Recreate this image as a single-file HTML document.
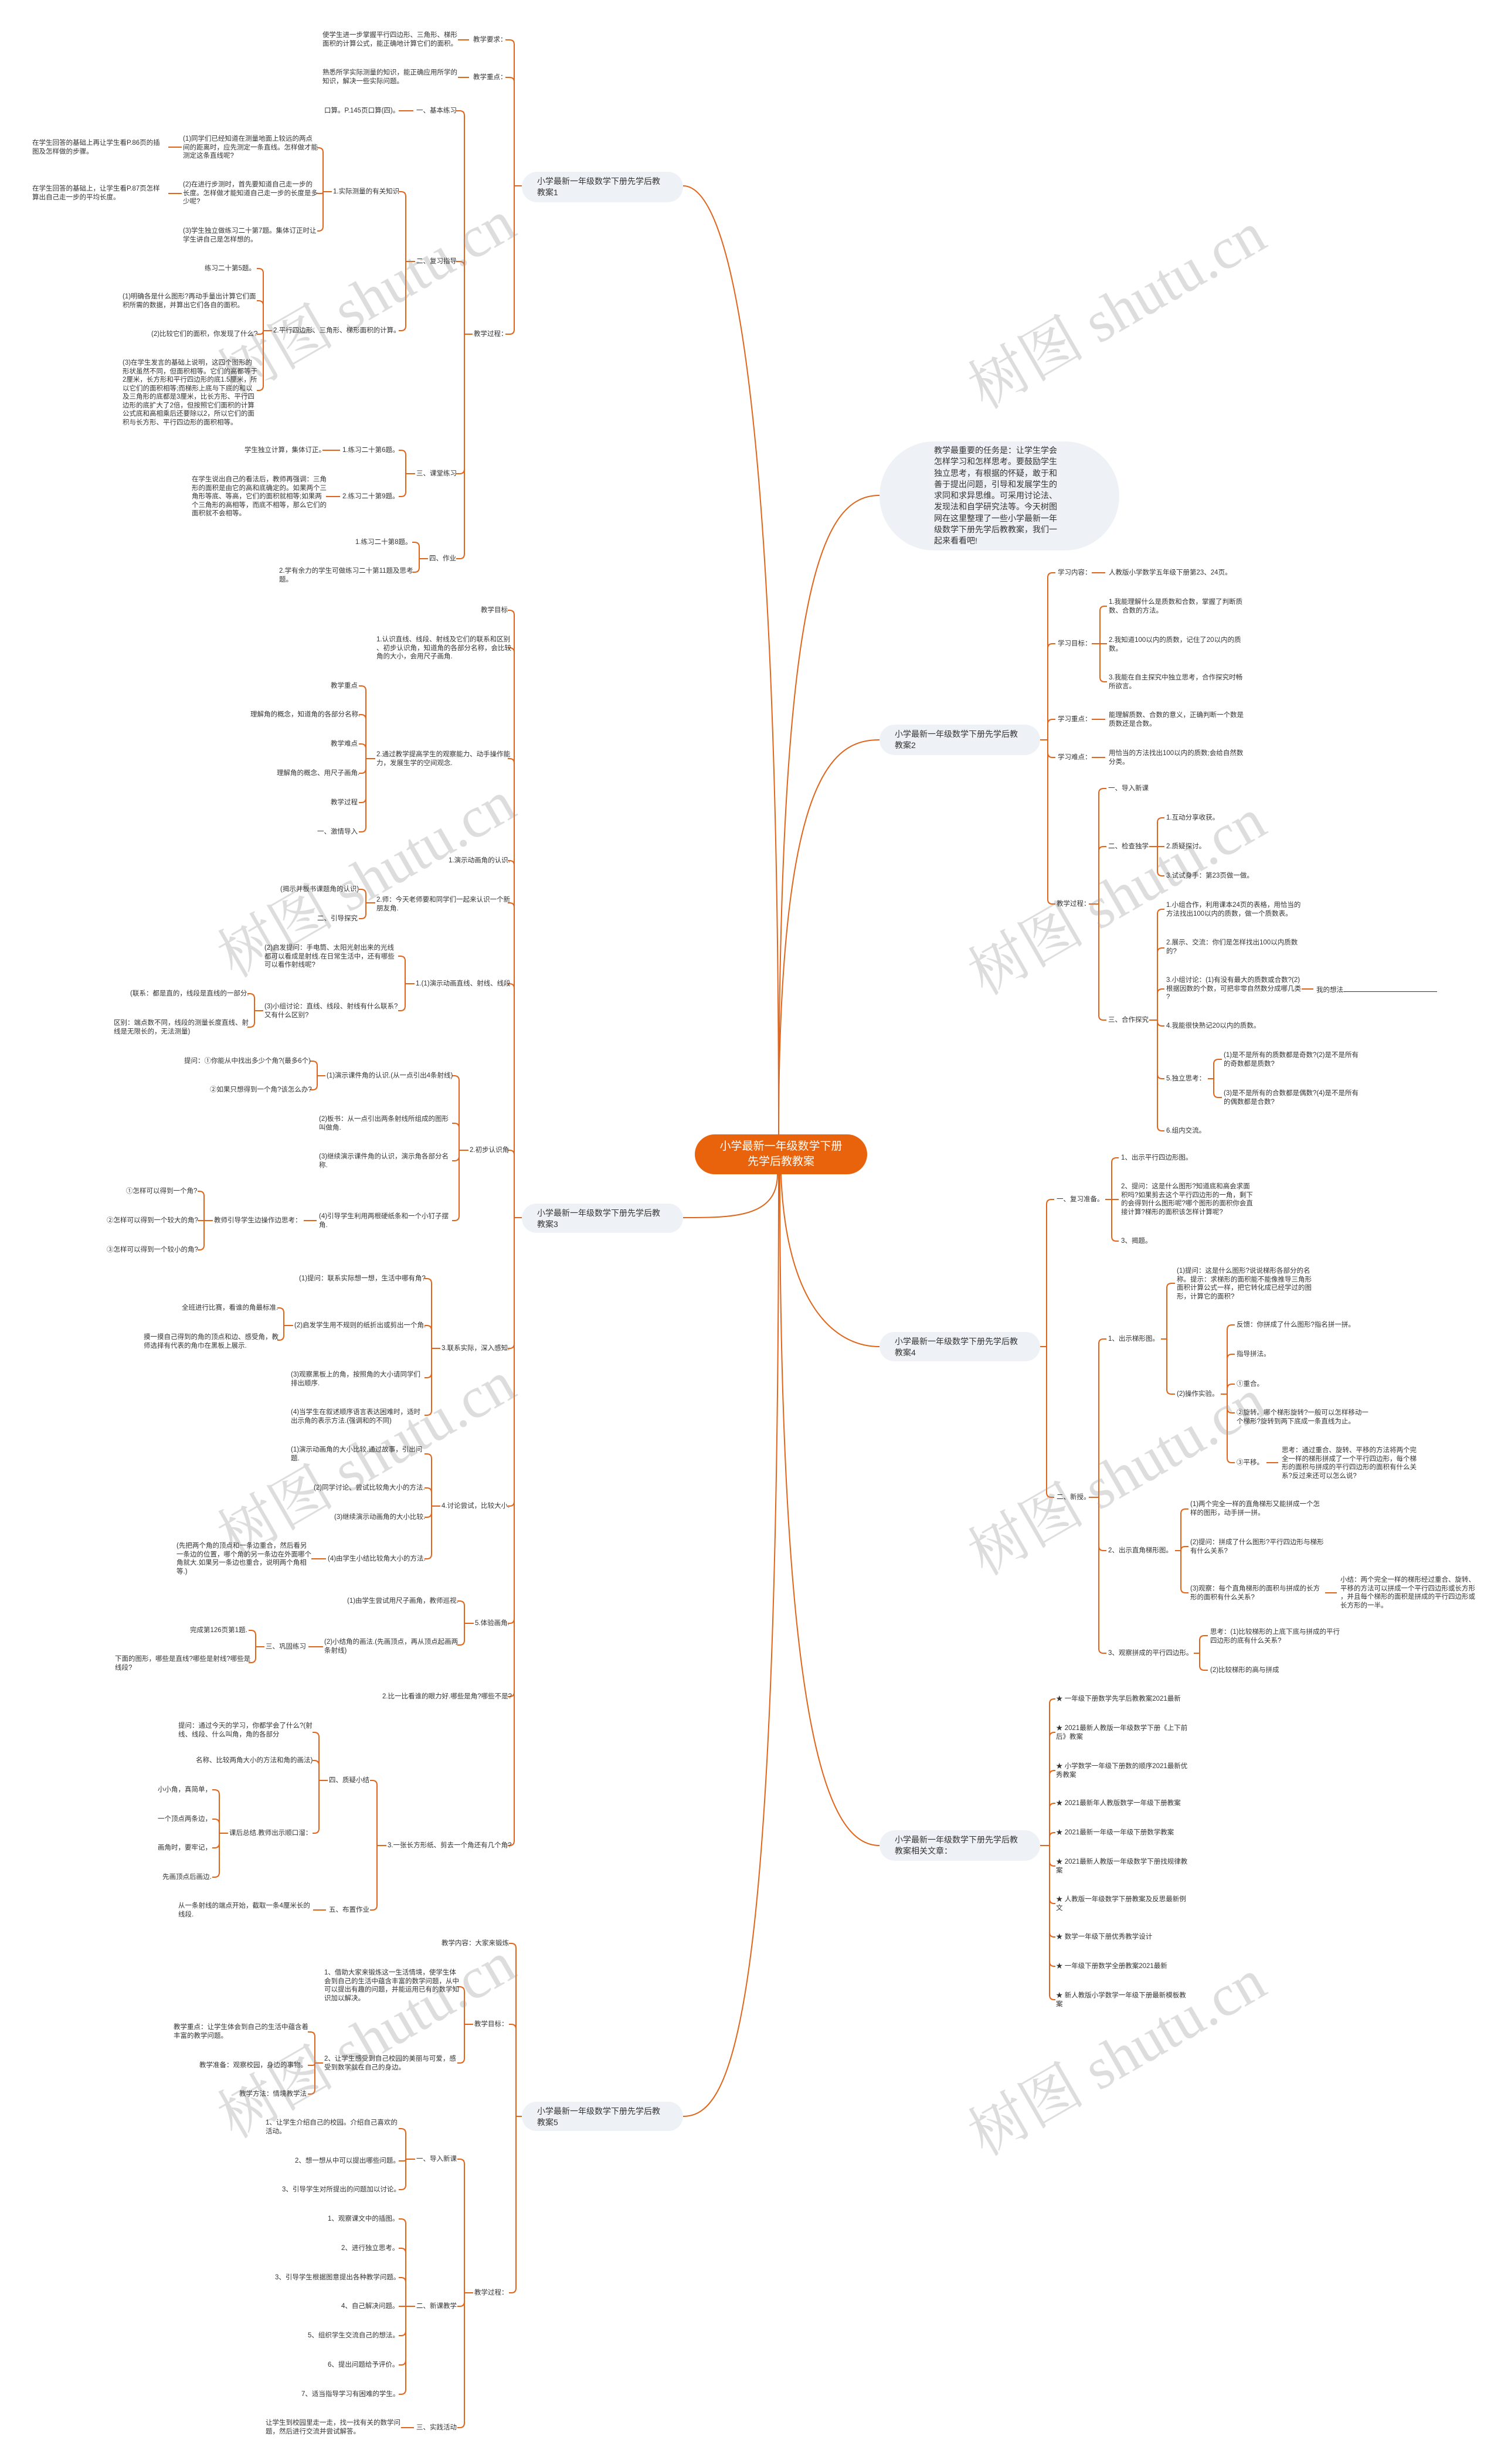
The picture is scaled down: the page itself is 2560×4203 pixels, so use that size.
<!DOCTYPE html>
<html><head><meta charset="utf-8">
<style>
html,body{margin:0;padding:0;background:#fff}
#c{position:relative;width:2560px;height:4203px;overflow:hidden;background:#fff;font-family:"Liberation Sans","Noto Sans CJK SC",sans-serif}
.t{position:absolute;font-size:11.5px;line-height:14.5px;white-space:nowrap;color:#333}
.n{position:absolute;background:#eef2f6;border-radius:26px;font-size:14px;line-height:19px;color:#333;box-sizing:border-box;padding:7px 0 0 26px;white-space:nowrap}
.wm{position:absolute;font-family:"Liberation Serif","Noto Serif CJK SC",serif;font-size:100px;color:rgba(150,150,150,0.32);white-space:nowrap;transform:rotate(-30deg);transform-origin:center}
svg{position:absolute;left:0;top:0}
</style></head><body><div id="c">
<svg id="s" width="2560" height="4203" viewBox="0 0 2560 4203" fill="none" stroke="#e0651a" stroke-width="2">
<path d="M1165 317 C1250 317 1328 700 1328 1935"/>
<path d="M1328 1935 C1328 1000 1400 845 1500 845"/>
<path d="M1328 1935 C1328 1320 1420 1262 1500 1262"/>
<path d="M1326 2003 C1326 2077 1250 2077 1165 2077"/>
<path d="M1332 2003 C1340 2220 1420 2297 1500 2297"/>
<path d="M1330 2003 C1330 3000 1420 3148 1500 3148"/>
<path d="M1328 2003 C1328 3450 1250 3610 1165 3610"/>
</svg>

<div class="wm" style="left:340px;top:430px">树图 shutu.cn</div>
<div class="wm" style="left:1620px;top:450px">树图 shutu.cn</div>
<div class="wm" style="left:340px;top:1420px">树图 shutu.cn</div>
<div class="wm" style="left:1620px;top:1450px">树图 shutu.cn</div>
<div class="wm" style="left:340px;top:2410px">树图 shutu.cn</div>
<div class="wm" style="left:1620px;top:2440px">树图 shutu.cn</div>
<div class="wm" style="left:340px;top:3400px">树图 shutu.cn</div>
<div class="wm" style="left:1620px;top:3430px">树图 shutu.cn</div>

<div style="position:absolute;left:1185px;top:1935px;width:294px;height:68px;border-radius:34px;background:#e8630c;color:#fff;font-size:19px;line-height:26px;text-align:center;box-sizing:border-box;padding-top:8px">小学最新一年级数学下册<br>先学后教教案</div>

<div style="position:absolute;left:1500px;top:753px;width:409px;height:186px;border-radius:93px;background:#eef2f6"></div>
<div class="t" style="left:1593px;top:759px;font-size:14px;line-height:19.3px">教学最重要的任务是：让学生学会<br>怎样学习和怎样思考。要鼓励学生<br>独立思考，有根据的怀疑，敢于和<br>善于提出问题，引导和发展学生的<br>求同和求异思维。可采用讨论法、<br>发现法和自学研究法等。今天树图<br>网在这里整理了一些小学最新一年<br>级数学下册先学后教教案，我们一<br>起来看看吧!</div>

<div class="n" style="left:890px;top:293px;width:275px;height:52px">小学最新一年级数学下册先学后教<br>教案1</div>
<div class="n" style="left:1500px;top:1236px;width:274px;height:52px">小学最新一年级数学下册先学后教<br>教案2</div>
<div class="n" style="left:890px;top:2053px;width:275px;height:50px">小学最新一年级数学下册先学后教<br>教案3</div>
<div class="n" style="left:1500px;top:2272px;width:274px;height:50px">小学最新一年级数学下册先学后教<br>教案4</div>
<div class="n" style="left:1500px;top:3122px;width:274px;height:52px">小学最新一年级数学下册先学后教<br>教案相关文章：</div>
<div class="n" style="left:890px;top:3585px;width:275px;height:50px">小学最新一年级数学下册先学后教<br>教案5</div>

<div class="t" style="left:807px;top:61px">教学要求：</div>
<div class="t" style="left:550px;top:53px">使学生进一步掌握平行四边形、三角形、梯形<br>面积的计算公式，能正确地计算它们的面积。</div>
<div class="t" style="left:807px;top:125px">教学重点：</div>
<div class="t" style="left:550px;top:117px">熟悉所学实际测量的知识，能正确应用所学的<br>知识，解决一些实际问题。</div>
<div class="t" style="left:808px;top:563px">教学过程：</div>
<div class="t" style="left:710px;top:182px">一、基本练习</div>
<div class="t" style="left:553px;top:182px">口算。P.145页口算(四)。</div>
<div class="t" style="left:710px;top:439px">二、复习指导</div>
<div class="t" style="left:568px;top:320px">1.实际测量的有关知识</div>
<div class="t" style="left:312px;top:230px">(1)同学们已经知道在测量地面上较远的两点<br>间的距离时，应先测定一条直线。怎样做才能<br>测定这条直线呢?</div>
<div class="t" style="left:55px;top:237px">在学生回答的基础上再让学生看P.86页的插<br>图及怎样做的步骤。</div>
<div class="t" style="left:312px;top:308px">(2)在进行步测时，首先要知道自己走一步的<br>长度。怎样做才能知道自己走一步的长度是多<br>少呢?</div>
<div class="t" style="left:55px;top:315px">在学生回答的基础上，让学生看P.87页怎样<br>算出自己走一步的平均长度。</div>
<div class="t" style="left:312px;top:387px">(3)学生独立做练习二十第7题。集体订正时让<br>学生讲自己是怎样想的。</div>
<div class="t" style="left:466px;top:557px">2.平行四边形、三角形、梯形面积的计算。</div>
<div class="t" style="left:349px;top:451px">练习二十第5题。</div>
<div class="t" style="left:209px;top:499px">(1)明确各是什么图形?再动手量出计算它们面<br>积所需的数据，并算出它们各自的面积。</div>
<div class="t" style="left:258px;top:563px">(2)比较它们的面积，你发现了什么?</div>
<div class="t" style="left:209px;top:612px">(3)在学生发言的基础上说明，这四个图形的<br>形状虽然不同，但面积相等。它们的高都等于<br>2厘米，长方形和平行四边形的底1.5厘米，所<br>以它们的面积相等;而梯形上底与下底的和以<br>及三角形的底都是3厘米，比长方形、平行四<br>边形的底扩大了2倍，但按照它们面积的计算<br>公式底和高相乘后还要除以2，所以它们的面<br>积与长方形、平行四边形的面积相等。</div>
<div class="t" style="left:710px;top:801px">三、课堂练习</div>
<div class="t" style="left:584px;top:761px">1.练习二十第6题。</div>
<div class="t" style="left:417px;top:761px">学生独立计算，集体订正。</div>
<div class="t" style="left:584px;top:840px">2.练习二十第9题。</div>
<div class="t" style="left:327px;top:811px">在学生说出自己的看法后，教师再强调：三角<br>形的面积是由它的高和底确定的。如果两个三<br>角形等底、等高，它们的面积就相等;如果两<br>个三角形的高相等，而底不相等，那么它们的<br>面积就不会相等。</div>
<div class="t" style="left:732px;top:946px">四、作业</div>
<div class="t" style="left:606px;top:918px">1.练习二十第8题。</div>
<div class="t" style="left:476px;top:967px">2.学有余力的学生可做练习二十第11题及思考<br>题。</div>

<div class="t" style="left:1804px;top:970px">学习内容：</div>
<div class="t" style="left:1891px;top:970px">人教版小学数学五年级下册第23、24页。</div>
<div class="t" style="left:1804px;top:1091px">学习目标：</div>
<div class="t" style="left:1891px;top:1020px">1.我能理解什么是质数和合数，掌握了判断质<br>数、合数的方法。</div>
<div class="t" style="left:1891px;top:1085px">2.我知道100以内的质数，记住了20以内的质<br>数。</div>
<div class="t" style="left:1891px;top:1149px">3.我能在自主探究中独立思考，合作探究时畅<br>所欲言。</div>
<div class="t" style="left:1804px;top:1220px">学习重点：</div>
<div class="t" style="left:1891px;top:1213px">能理解质数、合数的意义，正确判断一个数是<br>质数还是合数。</div>
<div class="t" style="left:1804px;top:1285px">学习难点：</div>
<div class="t" style="left:1891px;top:1278px">用恰当的方法找出100以内的质数;会给自然数<br>分类。</div>
<div class="t" style="left:1802px;top:1535px">教学过程：</div>
<div class="t" style="left:1890px;top:1338px">一、导入新课</div>
<div class="t" style="left:1890px;top:1437px">二、检查独学</div>
<div class="t" style="left:1989px;top:1388px">1.互动分享收获。</div>
<div class="t" style="left:1989px;top:1437px">2.质疑探讨。</div>
<div class="t" style="left:1989px;top:1487px">3.试试身手：第23页做一做。</div>
<div class="t" style="left:1890px;top:1733px">三、合作探究</div>
<div class="t" style="left:1989px;top:1537px">1.小组合作，利用课本24页的表格，用恰当的<br>方法找出100以内的质数，做一个质数表。</div>
<div class="t" style="left:1989px;top:1601px">2.展示、交流：你们是怎样找出100以内质数<br>的?</div>
<div class="t" style="left:1989px;top:1665px">3.小组讨论：(1)有没有最大的质数或合数?(2)<br>根据因数的个数，可把非零自然数分成哪几类<br>?</div>
<div class="t" style="left:2245px;top:1680px">我的想法<span style="display:inline-block;width:160px;border-bottom:1px solid #333;height:11px"></span></div>
<div class="t" style="left:1989px;top:1743px">4.我能很快熟记20以内的质数。</div>
<div class="t" style="left:1989px;top:1833px">5.独立思考：</div>
<div class="t" style="left:2087px;top:1793px">(1)是不是所有的质数都是奇数?(2)是不是所有<br>的奇数都是质数?</div>
<div class="t" style="left:2087px;top:1858px">(3)是不是所有的合数都是偶数?(4)是不是所有<br>的偶数都是合数?</div>
<div class="t" style="left:1989px;top:1922px">6.组内交流。</div>

<div class="t" style="left:1802px;top:2039px">一、复习准备。</div>
<div class="t" style="left:1912px;top:1968px">1、出示平行四边形图。</div>
<div class="t" style="left:1912px;top:2017px">2、提问：这是什么图形?知道底和高会求面<br>积吗?如果剪去这个平行四边形的一角，剩下<br>的会得到什么图形呢?哪个图形的面积你会直<br>接计算?梯形的面积该怎样计算呢?</div>
<div class="t" style="left:1912px;top:2110px">3、揭题。</div>
<div class="t" style="left:1802px;top:2547px">二、新授。</div>
<div class="t" style="left:1890px;top:2277px">1、出示梯形图。</div>
<div class="t" style="left:2007px;top:2161px">(1)提问：这是什么图形?说说梯形各部分的名<br>称。提示：求梯形的面积能不能像推导三角形<br>面积计算公式一样，把它转化成已经学过的图<br>形，计算它的面积?</div>
<div class="t" style="left:2007px;top:2371px">(2)操作实验。</div>
<div class="t" style="left:2109px;top:2253px">反馈：你拼成了什么图形?指名拼一拼。</div>
<div class="t" style="left:2109px;top:2303px">指导拼法。</div>
<div class="t" style="left:2109px;top:2354px">①重合。</div>
<div class="t" style="left:2109px;top:2403px">②旋转。哪个梯形旋转?一般可以怎样移动一<br>个梯形?旋转到两下底成一条直线为止。</div>
<div class="t" style="left:2109px;top:2488px">③平移。</div>
<div class="t" style="left:2186px;top:2467px">思考：通过重合、旋转、平移的方法将两个完<br>全一样的梯形拼成了一个平行四边形，每个梯<br>形的面积与拼成的平行四边形的面积有什么关<br>系?反过来还可以怎么说?</div>
<div class="t" style="left:1890px;top:2638px">2、出示直角梯形图。</div>
<div class="t" style="left:2030px;top:2559px">(1)两个完全一样的直角梯形又能拼成一个怎<br>样的图形，动手拼一拼。</div>
<div class="t" style="left:2030px;top:2624px">(2)提问：拼成了什么图形?平行四边形与梯形<br>有什么关系?</div>
<div class="t" style="left:2030px;top:2703px">(3)观察：每个直角梯形的面积与拼成的长方<br>形的面积有什么关系?</div>
<div class="t" style="left:2286px;top:2688px">小结：两个完全一样的梯形经过重合、旋转、<br>平移的方法可以拼成一个平行四边形或长方形<br>，并且每个梯形的面积是拼成的平行四边形或<br>长方形的一半。</div>
<div class="t" style="left:1890px;top:2813px">3、观察拼成的平行四边形。</div>
<div class="t" style="left:2064px;top:2777px">思考：(1)比较梯形的上底下底与拼成的平行<br>四边形的底有什么关系?</div>
<div class="t" style="left:2064px;top:2842px">(2)比较梯形的高与拼成</div>

<div class="t" style="left:1801px;top:2891px">★ 一年级下册数学先学后教教案2021最新</div>
<div class="t" style="left:1801px;top:2941px">★ 2021最新人教版一年级数学下册《上下前<br>后》教案</div>
<div class="t" style="left:1801px;top:3006px">★ 小学数学一年级下册数的顺序2021最新优<br>秀教案</div>
<div class="t" style="left:1801px;top:3069px">★ 2021最新年人教版数学一年级下册教案</div>
<div class="t" style="left:1801px;top:3119px">★ 2021最新一年级一年级下册数学教案</div>
<div class="t" style="left:1801px;top:3169px">★ 2021最新人教版一年级数学下册找规律教<br>案</div>
<div class="t" style="left:1801px;top:3233px">★ 人教版一年级数学下册教案及反思最新例<br>文</div>
<div class="t" style="left:1801px;top:3297px">★ 数学一年级下册优秀教学设计</div>
<div class="t" style="left:1801px;top:3347px">★ 一年级下册数学全册教案2021最新</div>
<div class="t" style="left:1801px;top:3397px">★ 新人教版小学数学一年级下册最新模板教<br>案</div>

<div class="t" style="left:820px;top:1034px">教学目标</div>
<div class="t" style="left:642px;top:1084px">1.认识直线、线段、射线及它们的联系和区别<br>、初步认识角，知道角的各部分名称，会比较<br>角的大小，会用尺子画角.</div>
<div class="t" style="left:642px;top:1280px">2.通过教学提高学生的观察能力、动手操作能<br>力，发展生学的空间观念.</div>
<div class="t" style="left:564px;top:1163px">教学重点</div>
<div class="t" style="left:427px;top:1212px">理解角的概念，知道角的各部分名称.</div>
<div class="t" style="left:564px;top:1262px">教学难点</div>
<div class="t" style="left:472px;top:1312px">理解角的概念、用尺子画角.</div>
<div class="t" style="left:564px;top:1362px">教学过程</div>
<div class="t" style="left:541px;top:1412px">一、激情导入</div>
<div class="t" style="left:765px;top:1461px">1.演示动画角的认识.</div>
<div class="t" style="left:642px;top:1528px">2.师：今天老师要和同学们一起来认识一个新<br>朋友角.</div>
<div class="t" style="left:478px;top:1510px">(揭示并板书课题角的认识)</div>
<div class="t" style="left:541px;top:1560px">二、引导探究</div>
<div class="t" style="left:709px;top:1671px">1.(1)演示动画直线、射线、线段</div>
<div class="t" style="left:451px;top:1610px">(2)启发提问：手电筒、太阳光射出来的光线<br>都可以看成是射线.在日常生活中，还有哪些<br>可以看作射线呢?</div>
<div class="t" style="left:451px;top:1710px">(3)小组讨论：直线、线段、射线有什么联系?<br>又有什么区别?</div>
<div class="t" style="left:222px;top:1688px">(联系：都是直的，线段是直线的一部分.</div>
<div class="t" style="left:194px;top:1738px">区别：端点数不同，线段的测量长度直线、射<br>线是无限长的，无法测量)</div>
<div class="t" style="left:801px;top:1955px">2.初步认识角</div>
<div class="t" style="left:557px;top:1828px">(1)演示课件角的认识.(从一点引出4条射线)</div>
<div class="t" style="left:314px;top:1803px">提问：①你能从中找出多少个角?(最多6个)</div>
<div class="t" style="left:358px;top:1852px">②如果只想得到一个角?该怎么办?</div>
<div class="t" style="left:544px;top:1902px">(2)板书：从一点引出两条射线所组成的图形<br>叫做角.</div>
<div class="t" style="left:544px;top:1966px">(3)继续演示课件角的认识，演示角各部分名<br>称.</div>
<div class="t" style="left:544px;top:2068px">(4)引导学生利用两根硬纸条和一个小钉子摆<br>角.</div>
<div class="t" style="left:365px;top:2075px">教师引导学生边操作边思考：</div>
<div class="t" style="left:215px;top:2025px">①怎样可以得到一个角?</div>
<div class="t" style="left:182px;top:2075px">②怎样可以得到一个较大的角?</div>
<div class="t" style="left:182px;top:2125px">③怎样可以得到一个较小的角?</div>
<div class="t" style="left:753px;top:2293px">3.联系实际，深入感知.</div>
<div class="t" style="left:510px;top:2174px">(1)提问：联系实际想一想，生活中哪有角?</div>
<div class="t" style="left:502px;top:2254px">(2)启发学生用不规则的纸折出或剪出一个角.</div>
<div class="t" style="left:310px;top:2224px">全班进行比赛，看谁的角最标准.</div>
<div class="t" style="left:245px;top:2274px">摸一摸自己得到的角的顶点和边、感受角，教<br>师选择有代表的角巾在黑板上展示.</div>
<div class="t" style="left:496px;top:2338px">(3)观察黑板上的角，按照角的大小请同学们<br>排出顺序.</div>
<div class="t" style="left:496px;top:2402px">(4)当学生在叙述顺序语言表达困难时，适时<br>出示角的表示方法.(强调和的不同)</div>
<div class="t" style="left:753px;top:2562px">4.讨论尝试，比较大小.</div>
<div class="t" style="left:496px;top:2466px">(1)演示动画角的大小比较.通过故事，引出问<br>题.</div>
<div class="t" style="left:535px;top:2531px">(2)同学讨论、尝试比较角大小的方法.</div>
<div class="t" style="left:570px;top:2581px">(3)继续演示动画角的大小比较.</div>
<div class="t" style="left:559px;top:2652px">(4)由学生小结比较角大小的方法.</div>
<div class="t" style="left:301px;top:2630px">(先把两个角的顶点和一条边重合，然后看另<br>一条边的位置，哪个角的另一条边在外面哪个<br>角就大.如果另一条边也重合，说明两个角相<br>等.)</div>
<div class="t" style="left:810px;top:2762px">5.体验画角.</div>
<div class="t" style="left:592px;top:2724px">(1)由学生尝试用尺子画角，教师巡视.</div>
<div class="t" style="left:553px;top:2794px">(2)小结角的画法.(先画顶点，再从顶点起画两<br>条射线)</div>
<div class="t" style="left:453px;top:2802px">三、巩固练习</div>
<div class="t" style="left:324px;top:2774px">完成第126页第1题.</div>
<div class="t" style="left:196px;top:2823px">下面的图形，哪些是直线?哪些是射线?哪些是<br>线段?</div>
<div class="t" style="left:652px;top:2887px">2.比一比看谁的眼力好.哪些是角?哪些不是?</div>
<div class="t" style="left:661px;top:3141px">3.一张长方形纸、剪去一个角还有几个角?</div>
<div class="t" style="left:561px;top:3030px">四、质疑小结</div>
<div class="t" style="left:304px;top:2937px">提问：通过今天的学习，你都学会了什么?(射<br>线、线段、什么叫角，角的各部分</div>
<div class="t" style="left:334px;top:2996px">名称、比较两角大小的方法和角的画法)</div>
<div class="t" style="left:391px;top:3120px">课后总结.教师出示顺口溜：</div>
<div class="t" style="left:269px;top:3046px">小小角，真简单，</div>
<div class="t" style="left:269px;top:3096px">一个顶点两条边，</div>
<div class="t" style="left:269px;top:3145px">画角时，要牢记，</div>
<div class="t" style="left:277px;top:3195px">先画顶点后画边.</div>
<div class="t" style="left:561px;top:3251px">五、布置作业</div>
<div class="t" style="left:304px;top:3244px">从一条射线的端点开始，截取一条4厘米长的<br>线段.</div>

<div class="t" style="left:753px;top:3308px">教学内容：大家来锻炼</div>
<div class="t" style="left:809px;top:3446px">教学目标：</div>
<div class="t" style="left:553px;top:3358px">1、借助大家来锻炼这一生活情境，使学生体<br>会到自己的生活中蕴含丰富的数学问题，从中<br>可以提出有趣的问题，并能运用已有的数学知<br>识加以解决。</div>
<div class="t" style="left:553px;top:3505px">2、让学生感受到自己校园的美丽与可爱，感<br>受到数学就在自己的身边。</div>
<div class="t" style="left:296px;top:3451px">教学重点：让学生体会到自己的生活中蕴含着<br>丰富的教学问题。</div>
<div class="t" style="left:340px;top:3516px">教学准备：观察校园，身边的事物。</div>
<div class="t" style="left:408px;top:3565px">教学方法：情境教学法</div>
<div class="t" style="left:809px;top:3904px">教学过程：</div>
<div class="t" style="left:710px;top:3676px">一、导入新课</div>
<div class="t" style="left:453px;top:3614px">1、让学生介绍自己的校园。介绍自己喜欢的<br>活动。</div>
<div class="t" style="left:503px;top:3679px">2、想一想从中可以提出哪些问题。</div>
<div class="t" style="left:481px;top:3728px">3、引导学生对所提出的问题加以讨论。</div>
<div class="t" style="left:710px;top:3927px">二、新课教学</div>
<div class="t" style="left:559px;top:3778px">1、观察课文中的插图。</div>
<div class="t" style="left:582px;top:3828px">2、进行独立思考。</div>
<div class="t" style="left:469px;top:3878px">3、引导学生根据图意提出各种教学问题。</div>
<div class="t" style="left:582px;top:3927px">4、自己解决问题。</div>
<div class="t" style="left:525px;top:3977px">5、组织学生交流自己的想法。</div>
<div class="t" style="left:559px;top:4027px">6、提出问题给予评价。</div>
<div class="t" style="left:514px;top:4077px">7、适当指导学习有困难的学生。</div>
<div class="t" style="left:710px;top:4134px">三、实践活动</div>
<div class="t" style="left:453px;top:4126px">让学生到校园里走一走，找一找有关的数学问<br>题，然后进行交流并尝试解答。</div>

<script>
(function(){
var s=document.getElementById('s'),NS='http://www.w3.org/2000/svg';
function P(d,w){var p=document.createElementNS(NS,'path');p.setAttribute('d',d);if(w)p.setAttribute('stroke-width',w);s.appendChild(p);}
function br(px,py,xv,ks,cx){var d='M'+px+' '+py+'H'+xv;var dir=cx<xv?-1:1;
for(var i=0;i<ks.length;i++){var cy=ks[i],dy=cy-py;
if(Math.abs(dy)<2){d+='M'+xv+' '+py+'H'+cx;continue;}
var sg=dy<0?-1:1,r=Math.min(8,Math.abs(dy));
d+='M'+xv+' '+py+'V'+(cy-sg*r)+'Q'+xv+' '+cy+' '+(xv+dir*r)+' '+cy+'H'+cx;}
P(d);}
function ln(x1,x2,y){P('M'+x1+' '+y+'H'+x2);}
br(890,317,877,[68,132,570],862);
ln(781,800,68);ln(781,800,132);
br(806,570,792,[189,446,808,953],778);
ln(680,705,189);
br(708,446,692,[327,564],680);
br(566,327,551,[252,330,394],541);
ln(287,310,251);ln(287,310,330);
br(464,564,449,[458,513,570,666],438);
br(708,808,692,[768,847],680);
ln(550,580,768);ln(556,580,847);
br(730,953,715,[925,976],703);
br(1774,1262,1787,[977,1098,1227,1292,1542],1800);
ln(1862,1885,977);ln(1862,1885,1227);ln(1862,1885,1292);
br(1862,1098,1876,[1034,1098,1163],1888);
br(1857,1542,1874,[1345,1444,1740],1887);
br(1960,1444,1974,[1395,1444,1494],1986);
br(1960,1740,1974,[1551,1617,1687,1750,1840,1929],1986);
ln(2220,2240,1687);
br(2060,1840,2070,[1807,1872],2084);
br(1774,2297,1785,[2046,2554],1798);
br(1885,2046,1896,[1975,2046,2117],1908);
br(1857,2554,1874,[2284,2645,2820],1887);
br(1980,2284,1990,[2189,2378],2004);
br(2082,2378,2093,[2260,2310,2361,2410,2495],2106);
ln(2160,2180,2495);
br(2004,2645,2014,[2574,2638,2717],2027);
ln(2260,2280,2717);
br(2036,2820,2046,[2790,2849],2060);
br(1774,3148,1790,[2898,2955,3020,3076,3126,3183,3247,3304,3354,3411],1800);
br(890,2077,877,[1041,1105,1294,1468,1540,1678,1962,2300,2569,2769,2894,3148],866);
br(640,1294,624,[1170,1219,1269,1319,1369,1419],612);
br(640,1540,624,[1517,1567],612);
br(707,1678,691,[1631,1724],679);
br(449,1724,434,[1695,1752],422);
br(799,1962,783,[1835,1916,1980,2082],771);
br(555,1835,541,[1810,1859],529);
ln(518,540,2082);
br(363,2082,348,[2032,2082,2132],337);
br(751,2300,736,[2181,2261,2350,2414],724);
br(500,2261,484,[2231,2286],473);
br(751,2569,736,[2480,2538,2588,2659],724);
ln(531,556,2659);
br(808,2769,792,[2731,2806],780);
ln(526,551,2809);
br(451,2809,436,[2781,2836],424);
br(659,3148,643,[3037,3258],631);
br(559,3037,544,[2955,3003,3127],533);
br(389,3127,374,[3053,3103,3152,3202],362);
ln(534,556,3258);
br(890,3610,880,[3315,3453,3911],868);
br(807,3453,792,[3389,3519],780);
br(551,3519,537,[3466,3523,3572],525);
br(807,3911,792,[3683,3934,4141],780);
br(708,3683,692,[3631,3686,3735],680);
br(708,3934,692,[3785,3835,3885,3934,3984,4034,4084],680);
ln(684,706,4141);
})();
</script>
</div></body></html>
